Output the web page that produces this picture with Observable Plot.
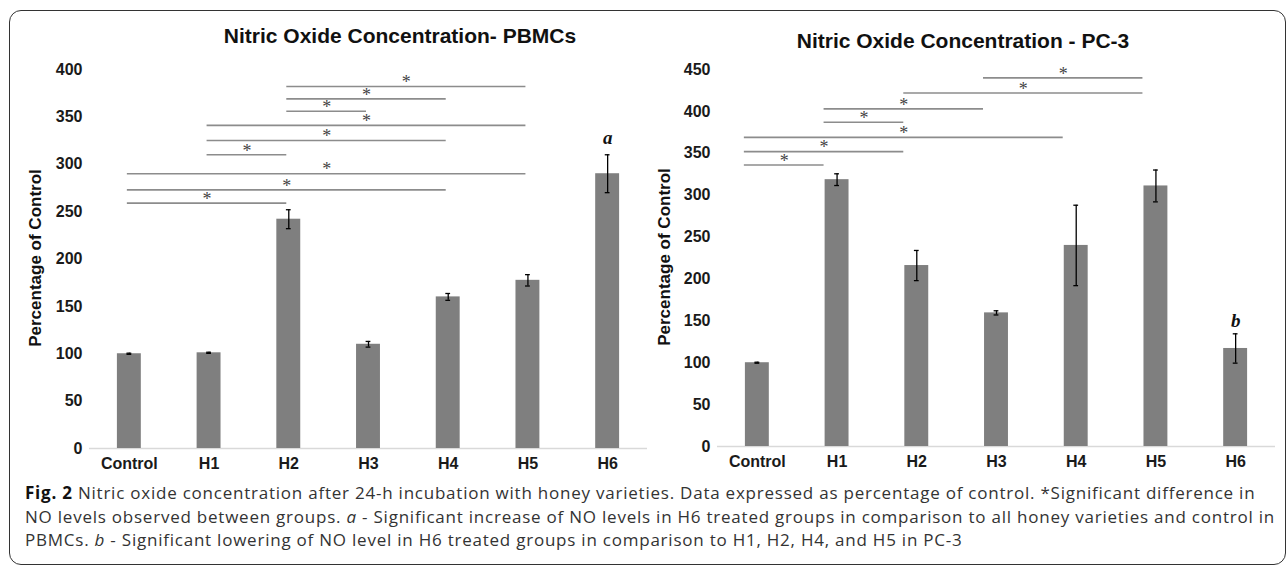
<!DOCTYPE html>
<html><head><meta charset="utf-8">
<script src="https://cdn.jsdelivr.net/npm/d3@7"></script>
<script src="https://cdn.jsdelivr.net/npm/@observablehq/plot@0.6"></script>
<style>
html,body{margin:0;padding:0;background:#fff;}
#root{position:relative;width:1287px;height:565px;overflow:hidden;font-family:"Liberation Sans",Arial,sans-serif;}
.frame{position:absolute;left:9px;top:10px;width:1277px;height:555px;border:1.5px solid #333;border-radius:12px;box-sizing:border-box;}
.chart{position:absolute;top:0;}
.title{position:absolute;font-weight:bold;font-size:21px;color:#111;white-space:nowrap;transform:translate(-50%,-50%);}
.ylab{position:absolute;font-weight:bold;font-size:17px;color:#111;white-space:nowrap;transform:translate(-50%,-50%) rotate(-90deg);}
#caption{position:absolute;left:25px;top:481px;font-family:"Open Sans","Noto Sans",sans-serif;font-weight:400;color:#333;font-size:17px;}
#caption div{white-space:nowrap;height:23.5px;line-height:23.5px;}
#caption b{color:#111;font-weight:700;}
</style></head>
<body>
<div id="root">
  <div class="frame"></div>
  <div id="left" class="chart" style="left:0px"></div>
  <div id="right" class="chart" style="left:640px"></div>
  <div class="title" id="t1" style="left:400px;top:36px"></div>
  <div class="title" id="t2" style="left:963px;top:41px"></div>
  <div class="ylab" id="y1" style="left:36px;top:258px"></div>
  <div class="ylab" id="y2" style="left:665px;top:257px"></div>
  <div id="caption">
    <div id="c1"><b>Fig. 2</b> Nitric oxide concentration after 24-h incubation with honey varieties. Data expressed as percentage of control. *Significant difference in</div>
    <div id="c2">NO levels observed between groups. <i>a</i> - Significant increase of NO levels in H6 treated groups in comparison to all honey varieties and control in</div>
    <div id="c3">PBMCs. <i>b</i> - Significant lowering of NO level in H6 treated groups in comparison to H1, H2, H4, and H5 in PC-3</div>
  </div>
</div>
<script>
// ---- data ----
const categories = ["Control", "H1", "H2", "H3", "H4", "H5", "H6"];
const pbmcTitle = "Nitric Oxide Concentration- PBMCs";
const pc3Title = "Nitric Oxide Concentration - PC-3";
const yAxisLabel = "Percentage of Control";

const pbmcValues = [100, 101, 242, 110, 160, 177.5, 290];
const pbmcErrors = [0.6, 0.6, 10, 3, 3.6, 6, 20];
const pbmcTicks = [0, 50, 100, 150, 200, 250, 300, 350, 400];
const pbmcSigFrom  = ["H2", "H2", "H2", "H1", "H1", "H1", "Control", "Control", "Control"];
const pbmcSigTo    = ["H5", "H4", "H3", "H5", "H4", "H2", "H5", "H4", "H2"];
const pbmcSigLevel = [382, 369, 356, 341, 325, 310, 290, 273, 259];
const pbmcMark = ["H6", 328, "a"];

const pc3Values = [100, 318.5, 216, 159.5, 240, 311, 117];
const pc3Errors = [0.6, 7, 18, 2.5, 48, 19, 17.5];
const pc3Ticks = [0, 50, 100, 150, 200, 250, 300, 350, 400, 450];
const pc3SigFrom  = ["H3", "H2", "H1", "H1", "Control", "Control", "Control"];
const pc3SigTo    = ["H5", "H5", "H3", "H2", "H4", "H2", "H1"];
const pc3SigLevel = [440, 422, 403, 387, 369, 352, 336];
const pc3Mark = ["H6", 150, "b"];

function chart({values, errors, ticks, sigFrom, sigTo, sigLevel, mark, width, marginLeft, marginRight, marginBottom, yMax, sigDx}) {
  const bars = categories.map((c, i) => ({c, i, v: values[i], e: errors[i]}));
  const sig = sigFrom.map((f, k) => ({a: categories.indexOf(f), b: categories.indexOf(sigTo[k]), y: sigLevel[k]}));
  const letter = [{i: categories.indexOf(mark[0]), y: mark[1], t: mark[2]}];
  return Plot.plot({
    width, height: 480, marginLeft, marginRight, marginTop: 69, marginBottom,
    style: {fontFamily: "'Liberation Sans', Arial, sans-serif", fontSize: "16px", fontWeight: "bold", color: "#1a1a1a", background: "transparent"},
    x: {type: "linear", domain: [-0.5, categories.length - 0.5], ticks: d3.range(categories.length), tickFormat: i => categories[i], tickSize: 0, tickPadding: 9, label: null},
    y: {domain: [0, yMax], ticks, tickSize: 0, tickPadding: 7, label: null},
    marks: [
      Plot.ruleY([0], {stroke: "#d9d9d9", strokeWidth: 1.3}),
      Plot.rectY(bars, {x1: d => d.i - 0.15, x2: d => d.i + 0.15, y1: 0, y2: "v", fill: "#7f7f7f"}),
      Plot.ruleX(bars, {x: "i", y1: d => d.v - d.e, y2: d => d.v + d.e, stroke: "#000", strokeWidth: 1.3}),
      Plot.ruleY(bars, {y: d => d.v + d.e, x1: d => d.i - 0.03, x2: d => d.i + 0.03, stroke: "#000", strokeWidth: 1.3}),
      Plot.ruleY(bars, {y: d => d.v - d.e, x1: d => d.i - 0.03, x2: d => d.i + 0.03, stroke: "#000", strokeWidth: 1.3}),
      Plot.ruleY(sig, {y: "y", x1: "a", x2: "b", stroke: "#8c8c8c", strokeWidth: 1.6, dx: sigDx}),
      Plot.text(sig, {x: d => (d.a + d.b) / 2, y: "y", text: () => "*", dx: sigDx, dy: -4, fontFamily: "'Liberation Serif', serif", fontSize: 18, fontWeight: "normal", fill: "#444"}),
      Plot.text(letter, {x: "i", y: "y", text: "t", fontFamily: "'Liberation Serif', serif", fontStyle: "italic", fontWeight: "bold", fontSize: 19, fill: "#111"})
    ]
  });
}

document.getElementById("left").appendChild(chart({
  values: pbmcValues, errors: pbmcErrors, ticks: pbmcTicks, sigFrom: pbmcSigFrom, sigTo: pbmcSigTo, sigLevel: pbmcSigLevel,
  mark: pbmcMark, width: 660, marginLeft: 89, marginRight: 13, marginBottom: 32, yMax: 400, sigDx: -2
}));
document.getElementById("right").appendChild(chart({
  values: pc3Values, errors: pc3Errors, ticks: pc3Ticks, sigFrom: pc3SigFrom, sigTo: pc3SigTo, sigLevel: pc3SigLevel,
  mark: pc3Mark, width: 647, marginLeft: 77, marginRight: 12, marginBottom: 34, yMax: 450, sigDx: -13
}));
document.getElementById("t1").textContent = pbmcTitle;
document.getElementById("t2").textContent = pc3Title;
document.getElementById("y1").textContent = yAxisLabel;
document.getElementById("y2").textContent = yAxisLabel;

// fit caption: font kept at 17px so lines do not overlap; letter spacing brings line 2 to ~1250px
const cap = document.getElementById("caption");
const line2 = document.getElementById("c2");
const extra = (1250 - line2.getBoundingClientRect().width) / line2.textContent.length;
cap.style.letterSpacing = Math.max(-0.6, Math.min(1.2, extra)).toFixed(3) + "px";
</script>
</body></html>
